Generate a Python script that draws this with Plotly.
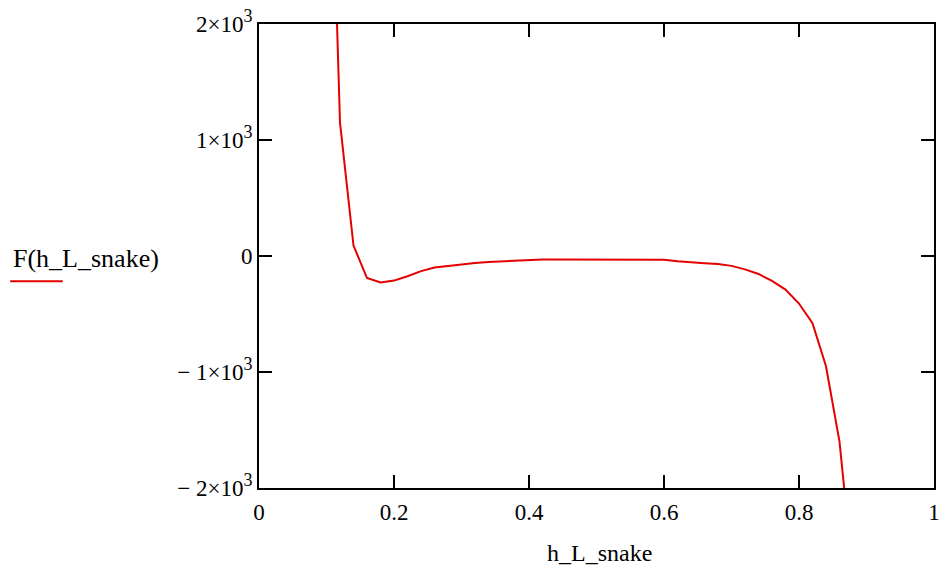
import plotly.graph_objects as go

# data
h_L_snake = [0.10, 0.12, 0.14, 0.16, 0.18, 0.20, 0.22, 0.24, 0.26, 0.28,
             0.30, 0.32, 0.34, 0.36, 0.38, 0.40, 0.42, 0.44, 0.46, 0.48,
             0.50, 0.52, 0.54, 0.56, 0.58, 0.60, 0.62, 0.64, 0.66, 0.68,
             0.70, 0.72, 0.74, 0.76, 0.78, 0.80, 0.82, 0.84, 0.86, 0.88]
F_values = [5000, 1150, 90, -190, -228, -212, -175, -130, -100, -85,
            -72, -60, -51, -45, -40, -33, -31, -31, -31, -31,
            -31, -31, -31, -31, -31, -32, -45, -57, -63, -70,
            -85, -115, -155, -215, -290, -410, -580, -950, -1600, -2750]

x_tickvals = [0, 0.2, 0.4, 0.6, 0.8, 1]
x_ticktext = ["0", "0.2", "0.4", "0.6", "0.8", "1"]
y_tickvals = [-2000, -1000, 0, 1000, 2000]
SUP3 = "<sup><span style='font-size:18px'>3</span></sup>"
y_ticktext = ["\u2212 2\u00d710" + SUP3, "\u2212 1\u00d710" + SUP3, "0",
              "1\u00d710" + SUP3, "2\u00d710" + SUP3]

font_family = "Liberation Serif, Times New Roman, serif"
RED = "rgb(228,0,0)"

W, H = 946, 568
L, R, T, B = 259, 6, 19, 80
PW, PH = W - L - R, H - T - B


def px_x(x):
    return (x - L) / PW


def px_y(y):
    return (H - B - y) / PH


fig = go.Figure()
fig.add_trace(go.Scatter(x=h_L_snake, y=F_values, mode="lines",
                         line=dict(color=RED, width=2),
                         showlegend=False, hoverinfo="skip"))

axis_common = dict(showgrid=False, zeroline=False, showline=True,
                   linecolor="black", linewidth=2, mirror="ticks",
                   ticks="inside", ticklen=13, tickwidth=2, tickcolor="black",
                   tickfont=dict(family=font_family, size=23, color="black"))

fig.update_xaxes(range=[0, 1], tickvals=x_tickvals, ticktext=x_ticktext,
                 ticklabelstandoff=2, **axis_common)
fig.update_yaxes(range=[-2000, 2000], tickvals=y_tickvals, ticktext=y_ticktext,
                 ticklabelstandoff=0, **axis_common)

fig.add_annotation(text="h_L_snake", xref="paper", yref="paper",
                   x=px_x(603), y=px_y(554), xanchor="center", yanchor="middle",
                   showarrow=False,
                   font=dict(family=font_family, size=24, color="black"))
fig.add_annotation(text="F(h_L_snake)", xref="paper", yref="paper",
                   x=px_x(9), y=px_y(256), xanchor="left",
                   yanchor="middle", showarrow=False,
                   font=dict(family=font_family, size=26, color="black"))
fig.add_shape(type="line", xref="paper", yref="paper",
              x0=px_x(8), x1=px_x(61), y0=px_y(279), y1=px_y(279),
              line=dict(color=RED, width=2))

fig.update_layout(width=W, height=H,
                  margin=dict(l=L, r=R, t=T, b=B),
                  paper_bgcolor="white", plot_bgcolor="white",
                  font=dict(family=font_family))

fig.write_html("out.html",
               config={"displayModeBar": False},
               post_script="document.body.style.margin='0';"
                           "document.body.style.overflow='hidden';")
